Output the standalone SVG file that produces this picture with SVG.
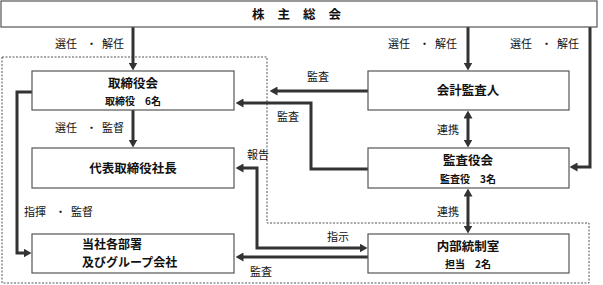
<svg xmlns="http://www.w3.org/2000/svg" width="603" height="285" viewBox="0 0 603 285">
<style>
text{font-family:"Noto Sans CJK JP","Noto Sans CJK SC",sans-serif;fill:#111;}
.box{fill:#fff;stroke:#555;stroke-width:1.2;}
.t{font-size:12.5px;font-weight:bold;text-anchor:middle;}
.s{font-size:10px;font-weight:bold;text-anchor:middle;}
.l{font-size:11px;}
.c{fill:none;stroke:#333;stroke-width:3;}
.dot{fill:none;stroke:#555;stroke-width:1;stroke-dasharray:2,1.5;}
</style>
<defs>
<marker id="ah" viewBox="0 0 8 9" markerWidth="8" markerHeight="9" refX="0.5" refY="4.5" orient="auto-start-reverse" markerUnits="userSpaceOnUse">
<path d="M0,0 L8,4.5 L0,9 z" fill="#333"/>
</marker>
</defs>
<path class="dot" d="M2,57 H267 V223 H589 V283 H2 Z"/>
<g id="connectors">
<path class="c" d="M133,27 V63" marker-end="url(#ah)"/>
<path class="c" d="M468,27 V63" marker-end="url(#ah)"/>
<path class="c" d="M590,27 V167 H577" marker-end="url(#ah)"/>
<path class="c" d="M368,91 H277" marker-end="url(#ah)"/>
<path class="c" d="M368,169 H311 V103 H243" marker-end="url(#ah)"/>
<path class="c" d="M133,110 V140" marker-end="url(#ah)"/>
<path class="c" d="M32,92 H17 V253 H24" marker-end="url(#ah)"/>
<path class="c" d="M468,118 V140" marker-start="url(#ah)" marker-end="url(#ah)"/>
<path class="c" d="M468,196 V226" marker-start="url(#ah)" marker-end="url(#ah)"/>
<path class="c" d="M243,168 H257 V248 H360" marker-start="url(#ah)" marker-end="url(#ah)"/>
<path class="c" d="M368,257 H243" marker-end="url(#ah)"/>
</g>
<g id="shareholders">
<rect class="box" x="1" y="1" width="596" height="26"/>
<text class="t" x="303" y="19" font-size="14" letter-spacing="13">株主総会</text>
</g>
<g id="board">
<rect class="box" x="32" y="71" width="202" height="39"/>
<text class="t" x="133" y="88">取締役会</text>
<text class="s" x="133" y="105">取締役　6名</text>
</g>
<g id="auditor">
<rect class="box" x="368" y="71" width="201" height="39"/>
<text class="t" x="468" y="95">会計監査人</text>
</g>
<g id="president">
<rect class="box" x="32" y="148" width="202" height="40"/>
<text class="t" x="133" y="173">代表取締役社長</text>
</g>
<g id="kansayakukai">
<rect class="box" x="368" y="148" width="201" height="40"/>
<text class="t" x="468" y="165">監査役会</text>
<text class="s" x="468" y="183">監査役　3名</text>
</g>
<g id="departments">
<rect class="box" x="32" y="234" width="202" height="39"/>
<text class="t" x="82" y="248.5" style="text-anchor:start;font-size:12px">当社各部署</text>
<text class="t" x="82" y="266.5" style="text-anchor:start;font-size:12px">及びグループ会社</text>
</g>
<g id="internal">
<rect class="box" x="368" y="234" width="201" height="39"/>
<text class="t" x="468" y="251">内部統制室</text>
<text class="s" x="468" y="268">担当　2名</text>
</g>
<g id="labels">
<text class="l" y="48"><tspan x="55">選任</tspan><tspan x="86">・</tspan><tspan x="102">解任</tspan></text>
<text class="l" y="48"><tspan x="388">選任</tspan><tspan x="419">・</tspan><tspan x="435">解任</tspan></text>
<text class="l" y="48"><tspan x="510">選任</tspan><tspan x="541">・</tspan><tspan x="557">解任</tspan></text>
<text class="l" x="307" y="81">監査</text>
<text class="l" x="277" y="121">監査</text>
<text class="l" y="132"><tspan x="55">選任</tspan><tspan x="86">・</tspan><tspan x="102">監督</tspan></text>
<text class="l" x="437" y="134">連携</text>
<text class="l" x="247" y="159">報告</text>
<text class="l" y="216"><tspan x="24">指揮</tspan><tspan x="55">・</tspan><tspan x="71">監督</tspan></text>
<text class="l" x="437" y="216">連携</text>
<text class="l" x="327" y="241">指示</text>
<text class="l" x="250" y="276">監査</text>
</g>
</svg>
